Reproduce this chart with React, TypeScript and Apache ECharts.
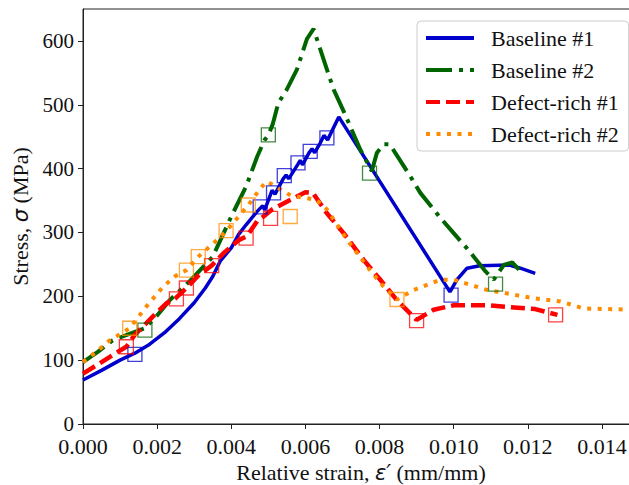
import React, { useEffect, useRef } from "react";
import * as echarts from "echarts";

// Axis ticks
const xTicks = [0, 0.002, 0.004, 0.006, 0.008, 0.01, 0.012, 0.014];
const yTicks = [0, 100, 200, 300, 400, 500, 600];

const seriesNames = ["Baseline #1", "Baseline #2", "Defect-rich #1", "Defect-rich #2"];

// Stress–strain curves: [relative strain (mm/mm), stress (MPa)]
const baseline1 = [
  [0, 69], [0.0005, 84], [0.001, 100], [0.0014, 111], [0.0018, 125], [0.0022, 143],
  [0.0026, 165], [0.003, 190], [0.0033, 213], [0.0035, 231], [0.0037, 255], [0.004, 276],
  [0.0042, 297], [0.0044, 312], [0.0047, 333], [0.00485, 342], [0.0049, 335], [0.00505, 358],
  [0.0051, 366], [0.00518, 360], [0.0054, 384], [0.00548, 390], [0.00555, 384], [0.0058, 407],
  [0.00586, 413], [0.00592, 406], [0.0061, 425], [0.00618, 431], [0.00625, 425], [0.0064, 440],
  [0.0065, 452], [0.0066, 445], [0.0069, 481], [0.0099, 207], [0.01009, 226], [0.01036, 244],
  [0.0107, 248], [0.0115, 249], [0.0118, 244], [0.0122, 236],
];
const baseline2 = [
  [0, 97], [0.0004, 113], [0.0008, 131], [0.0012, 140], [0.00167, 150], [0.002, 170],
  [0.00234, 194], [0.0029, 225], [0.0035, 262], [0.004, 325], [0.0044, 372], [0.0047, 419],
  [0.0049, 445], [0.005, 452], [0.00512, 470], [0.00527, 503], [0.0055, 524], [0.00577, 555],
  [0.00604, 603], [0.00622, 619], [0.0064, 587], [0.00676, 524], [0.00703, 490], [0.00748, 430],
  [0.00779, 396], [0.00793, 425], [0.00811, 438], [0.00828, 438], [0.00842, 425], [0.00883, 388],
  [0.0091, 362], [0.00964, 323], [0.01, 299], [0.01036, 275], [0.01086, 239], [0.01108, 226],
  [0.01135, 249], [0.01158, 253], [0.01189, 234],
];
const defect1 = [
  [0, 79], [0.00045, 95], [0.0008, 108], [0.00117, 121], [0.0014, 140], [0.00171, 158],
  [0.002, 175], [0.00225, 189], [0.0025, 197], [0.00279, 213], [0.0031, 232], [0.00347, 248],
  [0.0038, 268], [0.0042, 288], [0.00442, 294], [0.0047, 318], [0.00487, 325], [0.0051, 336],
  [0.00559, 351], [0.006, 363], [0.0062, 362], [0.00658, 330], [0.00703, 299], [0.00757, 257],
  [0.00802, 226], [0.00847, 194], [0.009, 163], [0.00946, 179], [0.01, 186], [0.0109, 186],
  [0.0122, 180], [0.0128, 171],
];
const defect2 = [
  [0, 97], [0.0004, 115], [0.00072, 131], [0.00126, 150], [0.00171, 184], [0.00216, 215],
  [0.0025, 232], [0.00279, 241], [0.00311, 262], [0.0035, 282], [0.00386, 302], [0.0042, 325],
  [0.00446, 343], [0.0048, 370], [0.00496, 380], [0.0052, 372], [0.0056, 358], [0.0063, 351],
  [0.00658, 336], [0.00712, 289], [0.00766, 247], [0.00811, 215], [0.00847, 195], [0.00892, 210],
  [0.00964, 226], [0.01, 226], [0.0109, 210], [0.01216, 197], [0.01288, 192], [0.01351, 181],
  [0.0148, 179],
];

// Highlighted measurement points (open squares)
const baseline1Marks = [
  [0.0014, 109], [0.00478, 340], [0.00514, 362], [0.00543, 389], [0.0058, 409],
  [0.00613, 427], [0.00658, 448], [0.00993, 202],
];
const baseline2Marks = [[0.00167, 147], [0.005, 453], [0.00773, 393], [0.01113, 219]];
const defect1Marks = [
  [0.00117, 121], [0.00252, 196], [0.00279, 213], [0.00347, 248], [0.0044, 291],
  [0.00506, 322], [0.009, 162], [0.01275, 171],
];
const defect2Marks = [
  [0.00126, 150], [0.00279, 241], [0.00311, 262], [0.00386, 303], [0.00446, 343],
  [0.00559, 325], [0.00847, 195],
];

const SERIF = "'Liberation Serif', 'Times New Roman', serif";
const MATH = "'DejaVu Sans', sans-serif";

const BLUE = "#0000cc";
const GREEN = "#006400";
const RED = "#ff0000";
const ORANGE = "#ff8c00";

export default function App() {
  const ref = useRef<HTMLDivElement>(null);

  useEffect(() => {
    document.body.style.margin = "0";
    const chart = echarts.init(ref.current!, undefined, { renderer: "svg" });

    const curves = [
      { name: seriesNames[0], data: baseline1, color: BLUE, width: 3.5, type: "solid" as any },
      { name: seriesNames[1], data: baseline2, color: GREEN, width: 4, type: [26, 7, 4, 7] },
      { name: seriesNames[2], data: defect1, color: RED, width: 4.5, type: [14, 6] },
      { name: seriesNames[3], data: defect2, color: ORANGE, width: 4, type: [4, 6.5] },
    ];
    const marks = [
      { data: baseline1Marks, color: BLUE },
      { data: baseline2Marks, color: GREEN },
      { data: defect1Marks, color: RED },
      { data: defect2Marks, color: ORANGE },
    ];

    const lineSeries = curves.map((c) => ({
      name: c.name,
      type: "line",
      data: c.data,
      symbol: "none",
      showSymbol: false,
      smooth: false,
      color: c.color,
      lineStyle: { color: c.color, width: c.width, type: c.type, cap: "butt" },
      z: 3,
    }));
    const markSeries = marks.map((m, i) => ({
      name: seriesNames[i] + " points",
      type: "scatter",
      data: m.data,
      symbol: "rect",
      symbolSize: 14,
      itemStyle: { color: "rgba(0,0,0,0)", borderColor: m.color, borderWidth: 1.3, opacity: 0.75 },
      z: 4,
    }));

    chart.setOption({
      animation: false,
      backgroundColor: "#ffffff",
      grid: {
        left: 83,
        right: -10,
        top: 9,
        bottom: 61,
        outerBoundsMode: "none",
        containLabel: false,
        show: true,
        borderColor: "#222",
        borderWidth: 1,
        backgroundColor: "transparent",
      },
      legend: {
        data: seriesNames,
        orient: "vertical",
        left: 417,
        top: 21,
        itemWidth: 48,
        itemHeight: 14,
        itemGap: 10,
        padding: [6, 10, 6, 7],
        borderColor: "#cccccc",
        borderWidth: 1,
        borderRadius: 4,
        backgroundColor: "rgba(255,255,255,0.85)",
        lineStyle: { width: 4 },
        itemStyle: { opacity: 0 },
        textStyle: { fontFamily: SERIF, fontSize: 22, color: "#111", padding: [0, 0, 0, 12] },
      },
      xAxis: {
        type: "value",
        min: 0,
        max: 0.015,
        interval: 0.002,
        name: "Relative strain, {m|ε′} (mm/mm)",
        nameLocation: "middle",
        nameGap: 32,
        nameTextStyle: {
          fontFamily: SERIF,
          fontSize: 22,
          color: "#111",
          rich: { m: { fontFamily: MATH, fontStyle: "italic", fontSize: 21, color: "#111" } },
        },
        axisLine: { show: true, lineStyle: { color: "#222", width: 1 } },
        axisTick: { show: true, inside: false, length: 5, lineStyle: { color: "#222" }, customValues: xTicks },
        axisLabel: {
          customValues: xTicks,
          formatter: (v: number) => v.toFixed(3),
          fontFamily: SERIF,
          fontSize: 22,
          lineHeight: 20,
          color: "#111",
          margin: 12,
        },
        splitLine: { show: false },
      },
      yAxis: {
        type: "value",
        min: 0,
        max: 650,
        interval: 100,
        name: "Stress, {m|σ} (MPa)",
        nameLocation: "middle",
        nameGap: 46,
        nameTextStyle: {
          fontFamily: SERIF,
          fontSize: 22,
          color: "#111",
          rich: { m: { fontFamily: MATH, fontStyle: "italic", fontSize: 21, color: "#111" } },
        },
        axisLine: { show: true, lineStyle: { color: "#222", width: 1 } },
        axisTick: { show: true, inside: false, length: 5, lineStyle: { color: "#222" }, customValues: yTicks },
        axisLabel: {
          customValues: yTicks,
          fontFamily: SERIF,
          fontSize: 21,
          lineHeight: 18,
          color: "#111",
          margin: 9,
        },
        splitLine: { show: false },
      },
      series: [...lineSeries, ...markSeries],
    });

    return () => chart.dispose();
  }, []);

  return <div ref={ref} style={{ width: 629, height: 485 }} />;
}
